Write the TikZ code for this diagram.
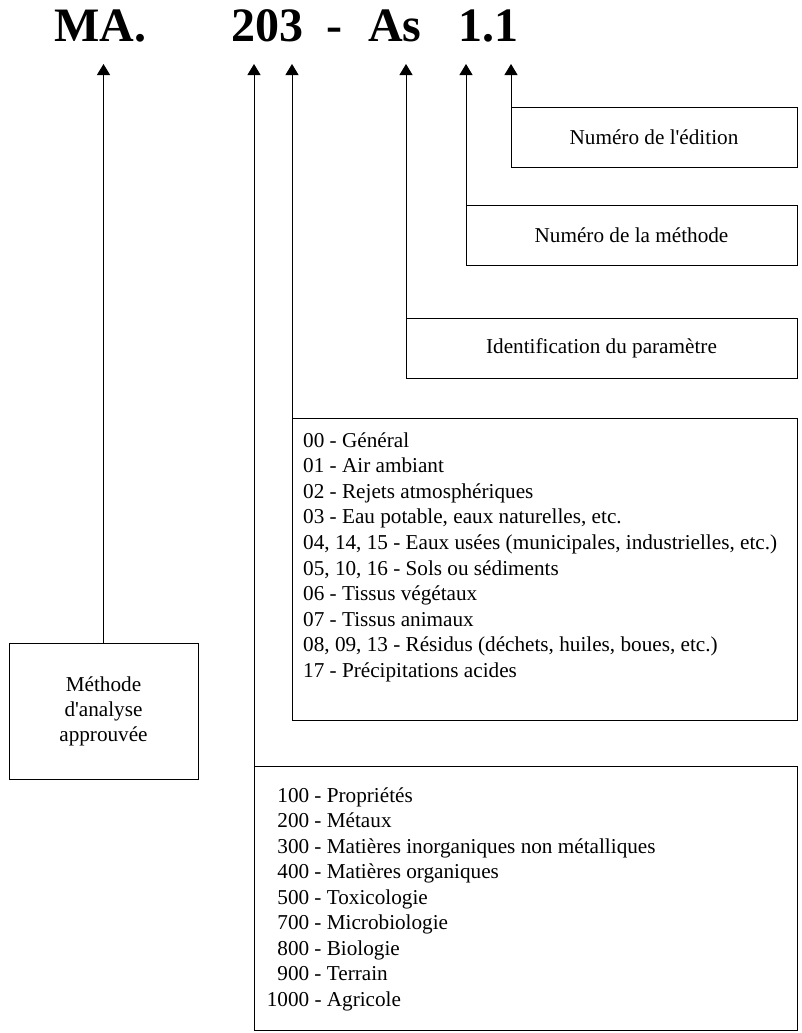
\documentclass[tikz,border=0pt]{standalone}
\usepackage{fontspec}
\setmainfont{Liberation Serif}
\usetikzlibrary{arrows.meta}
\newcommand{\apos}{\textquotesingle}

\begin{document}
\begin{tikzpicture}[x=1pt, y=-1pt,
    box/.style={draw, line width=0.9pt, inner sep=0pt, outer sep=0pt,
      anchor=north west, font=\fontsize{21.2}{25}\selectfont},
    lbl/.style={inner sep=0pt, anchor=base west, font=\fontsize{21.2}{25}\selectfont},
    code/.style={inner sep=0pt, anchor=base west, font=\fontsize{48}{50}\selectfont\bfseries},
    pointer/.style={-{Triangle[length=11pt, width=13pt]}, line width=0.9pt}]
  \useasboundingbox (0,0) rectangle (801,1033);
  \coordinate (tips) at (0,64);

  % the code itself
  \node[code] (ma) at (54,42) {MA.};
  \node[code] (num) at (231,42) {203};
  \node[code] (dash) at (326,42) {-};
  \node[code] (as) at (368,42) {As};
  \node[code] (ed) at (458,42) {1.1};

  % boxes
  \node[box, minimum width=286pt, minimum height=60pt] (edition) at (511,107)
    {Numéro de l\apos édition};
  \node[box, minimum width=331pt, minimum height=60pt] (methode) at (466,205)
    {Numéro de la méthode};
  \node[box, minimum width=391pt, minimum height=60pt] (param) at (406,318)
    {Identification du paramètre};
  \node[box, minimum width=189pt, minimum height=136pt, align=center,
    text depth=4pt] (approuve) at (9,643)
    {Méthode\\d\apos analyse\\approuvée};
  \node[box, minimum width=505pt, minimum height=302pt] (matrice) at (292,418) {};
  \node[box, minimum width=543pt, minimum height=264pt] (classe) at (254,766) {};

  % matrices
  \foreach \txt [count=\i from 0] in {
      00 - Général,
      01 - Air ambiant,
      02 - Rejets atmosphériques,
      {03 - Eau potable, eaux naturelles, etc.},
      {04, 14, 15 - Eaux usées (municipales, industrielles, etc.)},
      {05, 10, 16 - Sols ou sédiments},
      06 - Tissus végétaux,
      07 - Tissus animaux,
      {08, 09, 13 - Résidus (déchets, huiles, boues, etc.)},
      17 - Précipitations acides}
    \node[lbl] (m\i) at (303, {447+25.6*\i}) {\txt};

  % classes de parametres
  \foreach \num/\txt [count=\i from 0] in {
      100/Propriétés, 200/Métaux,
      300/Matières inorganiques non métalliques,
      400/Matières organiques, 500/Toxicologie, 700/Microbiologie,
      800/Biologie, 900/Terrain, 1000/Agricole}
    \node[lbl] (c\i) at (309, {802+25.5*\i}) {\llap{\num} - \txt};

  % arrows up to the code
  \draw[pointer] (approuve.north) -- (approuve.north |- tips);
  \draw[pointer] (classe.north west) -- (classe.north west |- tips);
  \draw[pointer] (matrice.north west) -- (matrice.north west |- tips);
  \draw[pointer] (param.north west) -- (param.north west |- tips);
  \draw[pointer] (methode.north west) -- (methode.north west |- tips);
  \draw[pointer] (edition.north west) -- (edition.north west |- tips);
\end{tikzpicture}
\end{document}
